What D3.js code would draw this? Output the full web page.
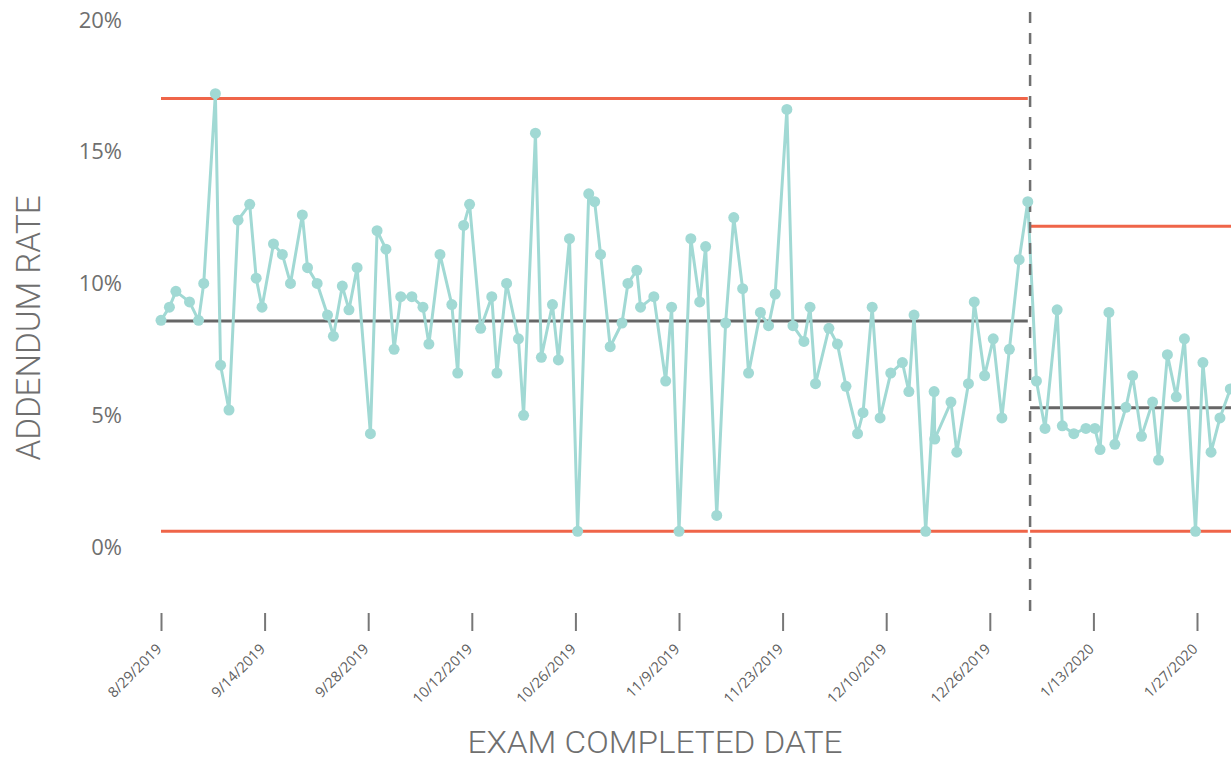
<!DOCTYPE html>
<html>
<head>
<meta charset="utf-8">
<script src="https://cdnjs.cloudflare.com/ajax/libs/d3/7.8.5/d3.min.js"></script>
<style>
  body { margin: 0; background: #fff; }
  svg { display: block; }
</style>
</head>
<body>
<svg id="chart"></svg>
<script>
// tick labels on the date axis
const tickLabels = ["8/29/2019", "9/14/2019", "9/28/2019", "10/12/2019", "10/26/2019", "11/9/2019",
  "11/23/2019", "12/10/2019", "12/26/2019", "1/13/2020", "1/27/2020"];
const startDate = "8/29/2019";

// days after startDate for each exam batch
const dayOffsets = [
  0, 1.3, 2.3, 4.4, 5.8, 6.6, 8.4, 9.2, 10.5, 11.9, 13.7, 14.7, 15.6,
  17.2, 18.4, 19.5, 21.1, 21.8, 23.1, 24.5, 25.3, 26.5, 27.4, 28.5,
  30.3, 31.2, 32.4, 33.5, 34.4, 35.9, 37.4, 38.2, 39.7, 41.3, 42.1, 42.9, 43.7,
  45.2, 46.7, 47.4, 48.7, 50.3, 51.0, 52.6, 53.4, 54.9, 55.7, 57.2,
  58.3, 59.8, 60.6, 61.4, 62.7, 64.3, 65.1, 66.3, 66.8, 68.6, 70.2, 71.0,
  72.0, 73.6, 74.8, 75.6, 77.1, 78.3, 79.4, 80.6, 81.4, 83.0, 84.1, 85.0,
  86.7, 87.7, 89.5, 90.5, 91.4, 93.6, 95.0, 96.4, 98.3, 99.2, 100.7, 102.0,
  103.7, 105.5, 106.5, 107.3, 109.1, 110.4, 110.5, 113.0, 113.9, 115.7, 116.6, 118.2,
  119.6, 121.1, 122.4, 124.1, 125.6, 127.1, 128.6, 130.7, 131.6, 133.6, 135.7,
  137.2, 137.9, 139.1, 139.9, 141.4, 142.3, 143.5, 145.0, 145.8, 147.0, 148.2, 149.3, 150.8,
  151.8, 152.9, 154.1, 155.5
];

// addendum rate, %
const rates = [
  8.0, 8.5, 9.1, 8.7, 8.0, 9.4, 16.6, 6.3, 4.6, 11.8, 12.4, 9.6, 8.5,
  10.9, 10.5, 9.4, 12.0, 10.0, 9.4, 8.2, 7.4, 9.3, 8.4, 10.0,
  3.7, 11.4, 10.7, 6.9, 8.9, 8.9, 8.5, 7.1, 10.5, 8.6, 6.0, 11.6, 12.4,
  7.7, 8.9, 6.0, 9.4, 7.3, 4.4, 15.1, 6.6, 8.6, 6.5, 11.1,
  0, 12.8, 12.5, 10.5, 7.0, 7.9, 9.4, 9.9, 8.5, 8.9, 5.7, 8.5,
  0, 11.1, 8.7, 10.8, 0.6, 7.9, 11.9, 9.2, 6.0, 8.3, 7.8, 9.0,
  16.0, 7.8, 7.2, 8.5, 5.6, 7.7, 7.1, 5.5, 3.7, 4.5, 8.5, 4.3,
  6.0, 6.4, 5.3, 8.2, 0, 5.3, 3.5, 4.9, 3.0, 5.6, 8.7, 5.9,
  7.3, 4.3, 6.9, 10.3, 12.5, 5.7, 3.9, 8.4, 4.0, 3.7, 3.9,
  3.9, 3.1, 8.3, 3.3, 4.7, 5.9, 3.6, 4.9, 2.7, 6.7, 5.1, 7.3, 0,
  6.4, 3.0, 4.3, 5.4
];

// control chart phases
const phaseStarts = ["8/29/2019", "1/2/2020"];
const phaseEnds = ["1/1/2020", "2/1/2020"];
const phaseMeans = [7.98, 4.69];
const phaseUcl = [16.42, 11.57];
const phaseLcl = [0, 0];

const width = 1231, height = 762;
const parse = d3.timeParse("%m/%d/%Y");
const fmt = d3.timeFormat("%-m/%-d/%Y");

const start = parse(startDate);
const data = dayOffsets.map((d, i) => ({
  date: new Date(start.getTime() + d * 864e5),
  rate: rates[i] / 100
}));
const breakDate = parse(phaseStarts[1]);
// last point of phase 1 closes its control lines
const phase1Last = data.filter(d => d.date < breakDate).pop().date;

const phases = phaseStarts.map((s, i) => ({
  start: i === 0 ? data[0].date : parse(s),
  end: i === 0 ? phase1Last : parse(phaseEnds[i]),
  mean: phaseMeans[i] / 100,
  ucl: phaseUcl[i] / 100,
  lcl: phaseLcl[i] / 100
}));

const tickDates = tickLabels.map(parse);
const xLeft = 161, xRight = 1197;
const step = (xRight - xLeft) / (tickDates.length - 1);

const x = d3.scaleTime()
  .domain(tickDates)
  .range(tickDates.map((d, i) => xLeft + i * step));

const axisY = 613;
const y = d3.scaleLinear()
  .domain([-0.031, 0.2])
  .range([axisY, 4]);

const svg = d3.select("#chart")
  .attr("width", width)
  .attr("height", height);

const grey = "#6f6f6f";
const teal = "#a1d9d4";
const red = "#ef6549";

// y axis labels only
const yAxis = svg.append("g")
  .attr("transform", "translate(130,0)")
  .call(d3.axisLeft(y)
    .tickValues([0, 0.05, 0.1, 0.15, 0.2])
    .tickFormat(d3.format(".0%"))
    .tickSize(0)
    .tickPadding(8));
yAxis.select(".domain").remove();
yAxis.selectAll("text")
  .attr("y", 16)
  .attr("fill", grey)
  .style("font-family", "'Open Sans', sans-serif")
  .style("font-size", "22px");

// x axis
const xAxis = svg.append("g")
  .attr("transform", `translate(0,${axisY})`)
  .call(d3.axisBottom(x)
    .tickValues(tickDates)
    .tickFormat(fmt)
    .tickSize(18));
xAxis.select(".domain").remove();
xAxis.selectAll(".tick line")
  .attr("stroke", "#777")
  .attr("stroke-width", 2);
xAxis.selectAll("text")
  .attr("x", 0)
  .attr("y", 0)
  .attr("dy", 0)
  .attr("transform", "translate(1,37) rotate(-45)")
  .attr("text-anchor", "end")
  .attr("fill", "#5f5f5f")
  .style("font-family", "'Open Sans', sans-serif")
  .style("font-size", "14.5px");

// control limits and centre lines
const limits = svg.append("g");
phases.forEach(p => {
  [["ucl", red], ["lcl", red], ["mean", "#666"]].forEach(([k, c]) => {
    limits.append("line")
      .attr("x1", x(p.start))
      .attr("x2", x(p.end))
      .attr("y1", y(p[k]))
      .attr("y2", y(p[k]))
      .attr("stroke", c)
      .attr("stroke-width", 3);
  });
});

// series
svg.append("path")
  .datum(data)
  .attr("fill", "none")
  .attr("stroke", teal)
  .attr("stroke-width", 3)
  .attr("stroke-linejoin", "round")
  .attr("d", d3.line().x(d => x(d.date)).y(d => y(d.rate)));

// phase break
svg.append("line")
  .attr("x1", x(breakDate))
  .attr("x2", x(breakDate))
  .attr("y1", 12)
  .attr("y2", axisY)
  .attr("stroke", "#707070")
  .attr("stroke-width", 2.5)
  .attr("stroke-dasharray", "11,10");

svg.append("g")
  .selectAll("circle")
  .data(data)
  .join("circle")
  .attr("cx", d => x(d.date))
  .attr("cy", d => y(d.rate))
  .attr("r", 5.5)
  .attr("fill", teal);

// axis titles
svg.append("text")
  .attr("transform", "translate(40,328) rotate(-90)")
  .attr("text-anchor", "middle")
  .attr("textLength", 265)
  .attr("lengthAdjust", "spacingAndGlyphs")
  .attr("fill", grey)
  .style("font-family", "Roboto, sans-serif")
  .style("font-weight", 300)
  .style("font-size", "34px")
  .text("ADDENDUM RATE");

svg.append("text")
  .attr("x", 655)
  .attr("y", 753)
  .attr("text-anchor", "middle")
  .attr("textLength", 375)
  .attr("lengthAdjust", "spacingAndGlyphs")
  .attr("fill", grey)
  .style("font-family", "Roboto, sans-serif")
  .style("font-weight", 300)
  .style("font-size", "32px")
  .text("EXAM COMPLETED DATE");
</script>
</body>
</html>
